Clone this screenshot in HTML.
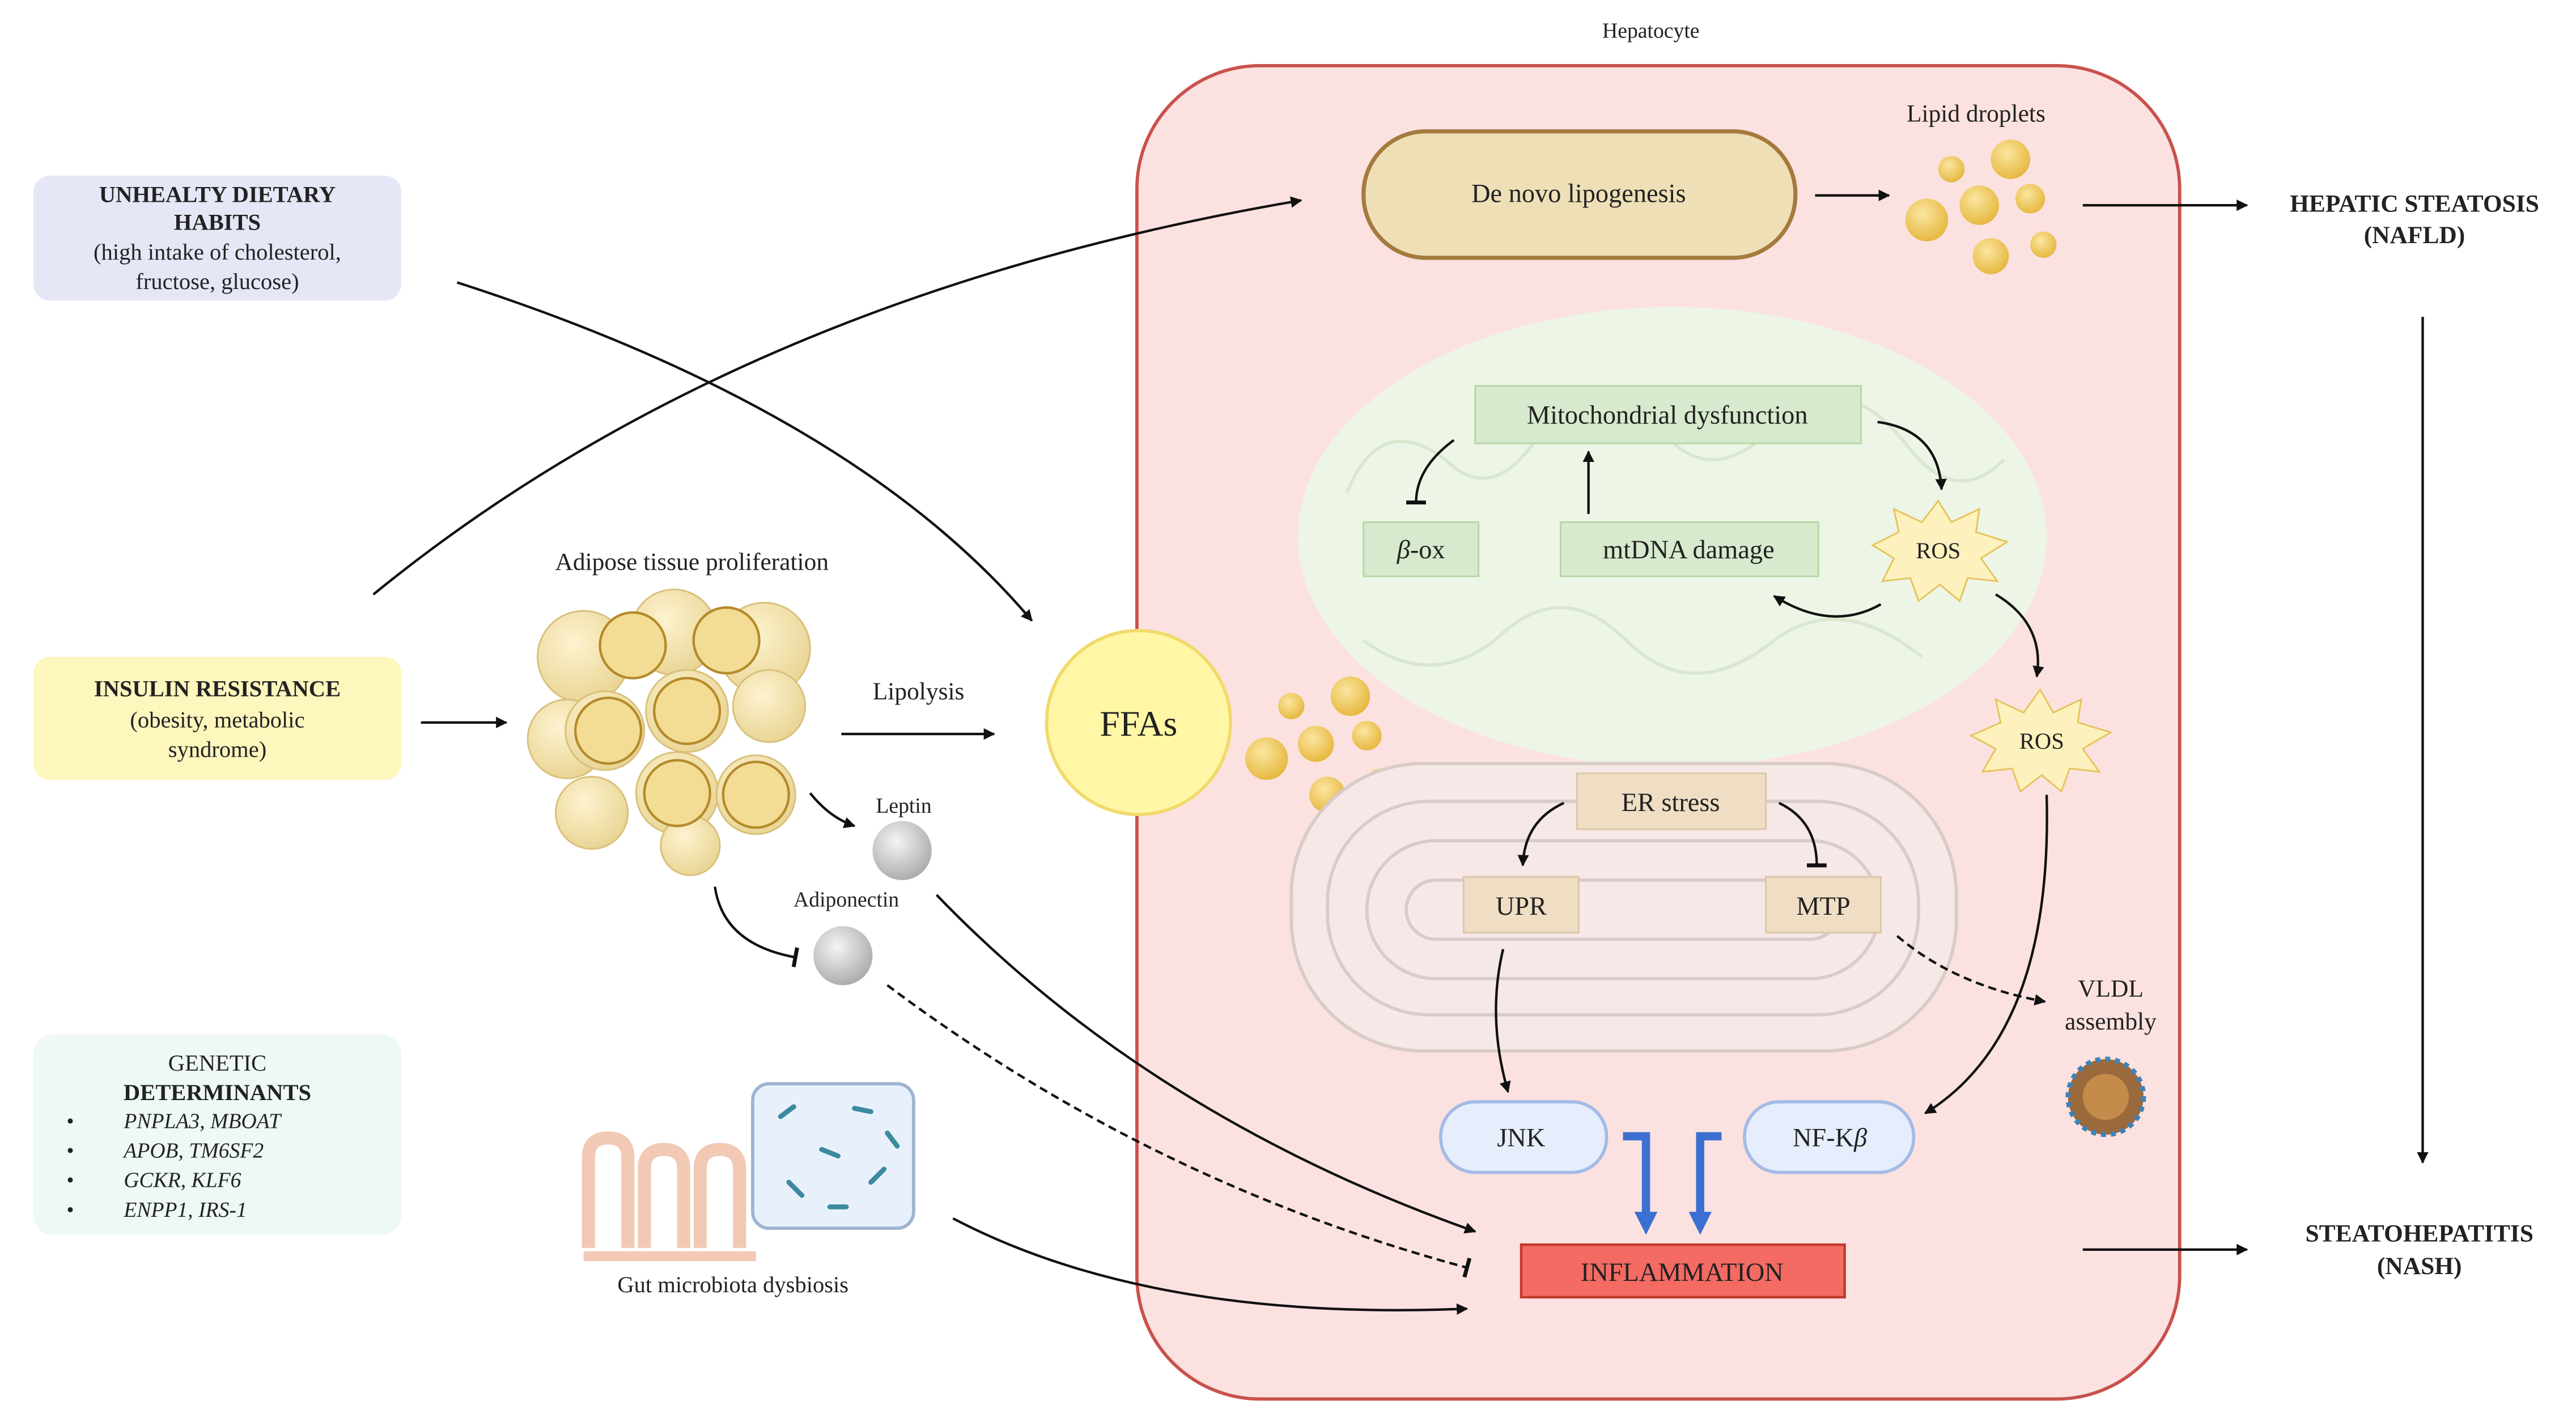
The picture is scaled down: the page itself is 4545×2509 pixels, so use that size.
<!DOCTYPE html>
<html><head><meta charset="utf-8"><style>
html,body{margin:0;padding:0;background:#fff;}
svg{display:block;}
text{font-family:"Liberation Serif",serif;fill:#222;}
</style></head><body>
<svg width="4545" height="2509" viewBox="0 0 1568 866" xmlns="http://www.w3.org/2000/svg">
<defs>
<marker id="a" viewBox="0 0 10 10" refX="9" refY="5" markerWidth="7" markerHeight="7" orient="auto" markerUnits="userSpaceOnUse"><path d="M0,0L10,5L0,10z" fill="#111"/></marker>
<marker id="t" viewBox="0 0 10 10" refX="5" refY="5" markerWidth="12" markerHeight="12" orient="auto" markerUnits="userSpaceOnUse"><path d="M5,0V10" stroke="#111" stroke-width="2"/></marker>
<marker id="b" viewBox="0 0 10 10" refX="5" refY="5" markerWidth="14" markerHeight="14" orient="auto" markerUnits="userSpaceOnUse"><path d="M0,0L10,5L0,10z" fill="#3b6fd1"/></marker>
<radialGradient id="dr" cx="0.4" cy="0.35" r="0.7"><stop offset="0" stop-color="#fbe6a0"/><stop offset="1" stop-color="#e5b53a"/></radialGradient>
<radialGradient id="gr" cx="0.4" cy="0.35" r="0.7"><stop offset="0" stop-color="#f4f4f4"/><stop offset="1" stop-color="#a9a9a9"/></radialGradient>
<radialGradient id="ad" cx="0.4" cy="0.35" r="0.7"><stop offset="0" stop-color="#fdf3d0"/><stop offset="1" stop-color="#e8d391"/></radialGradient>
</defs>

<text x="1005" y="23" font-size="13" text-anchor="middle">Hepatocyte</text>
<rect x="692" y="40" width="635" height="812" rx="75" fill="#fbe2e0" stroke="#c9514c" stroke-width="2"/>

<rect x="830" y="80" width="263" height="77" rx="38" fill="#eedfb6" stroke="#a57a3e" stroke-width="2.5"/>
<text x="961" y="123" font-size="16" text-anchor="middle">De novo lipogenesis</text>
<text x="1203" y="74" font-size="15" text-anchor="middle">Lipid droplets</text>
<g fill="url(#dr)">
<circle cx="1188" cy="103" r="8"/><circle cx="1224" cy="97" r="12"/><circle cx="1173" cy="134" r="13"/><circle cx="1205" cy="125" r="12"/><circle cx="1236" cy="121" r="9"/><circle cx="1212" cy="156" r="11"/><circle cx="1244" cy="149" r="8"/>
</g>
<path d="M1105,119H1150" stroke="#111" stroke-width="1.5" marker-end="url(#a)"/>
<path d="M1268,125H1368" stroke="#111" stroke-width="1.5" marker-end="url(#a)"/>
<text x="1470" y="129" font-size="15" font-weight="bold" text-anchor="middle">HEPATIC STEATOSIS</text>
<text x="1470" y="148" font-size="15" font-weight="bold" text-anchor="middle">(NAFLD)</text>
<path d="M1475,193V708" stroke="#111" stroke-width="1.5" marker-end="url(#a)"/>
<text x="1473" y="756" font-size="15" font-weight="bold" text-anchor="middle">STEATOHEPATITIS</text>
<text x="1473" y="776" font-size="15" font-weight="bold" text-anchor="middle">(NASH)</text>
<path d="M1268,761H1368" stroke="#111" stroke-width="1.5" marker-end="url(#a)"/>

<ellipse cx="1018" cy="327" rx="228" ry="140" fill="#edf5e6"/>
<path d="M820,300 q20,-50 60,-20 q30,30 60,-20 q30,-40 70,0 q30,40 70,0 q40,-40 80,10 q30,40 60,10 M830,390 q40,30 80,0 q40,-40 80,0 q40,40 90,0 q40,-30 90,10" fill="none" stroke="#d9e7d0" stroke-width="2"/>
<rect x="898" y="235" width="235" height="35" fill="#d7eacd" stroke="#b7d6a7"/>
<text x="1015" y="258" font-size="16" text-anchor="middle">Mitochondrial dysfunction</text>
<rect x="830" y="318" width="70" height="33" fill="#d7eacd" stroke="#b7d6a7"/>
<text x="865" y="340" font-size="16" text-anchor="middle"><tspan font-style="italic">β</tspan>-ox</text>
<rect x="950" y="318" width="157" height="33" fill="#d7eacd" stroke="#b7d6a7"/>
<text x="1028" y="340" font-size="16" text-anchor="middle">mtDNA damage</text>
<polygon points="1180,305 1188,318 1205,310 1203,324 1222,330 1206,340 1216,354 1198,352 1193,366 1181,356 1168,366 1163,352 1146,354 1153,340 1140,332 1156,324 1153,310 1170,318" fill="#fdf2bd" stroke="#e6c35c"/>
<text x="1180" y="340" font-size="14" text-anchor="middle">ROS</text>
<polygon points="1242,420 1250,434 1267,426 1265,440 1285,446 1268,456 1278,470 1260,468 1255,482 1243,472 1230,482 1225,468 1207,470 1215,456 1200,448 1218,440 1215,426 1232,434" fill="#fdf2bd" stroke="#e6c35c"/>
<text x="1243" y="456" font-size="14" text-anchor="middle">ROS</text>
<path d="M885,268 Q862,285 862,306" fill="none" stroke="#111" stroke-width="1.5" marker-end="url(#t)"/>
<path d="M967,313V275" stroke="#111" stroke-width="1.5" marker-end="url(#a)"/>
<path d="M1145,368 Q1115,385 1080,363" fill="none" stroke="#111" stroke-width="1.5" marker-end="url(#a)"/>
<path d="M1143,257 Q1180,262 1182,298" fill="none" stroke="#111" stroke-width="1.5" marker-end="url(#a)"/>
<path d="M1215,362 Q1245,380 1240,412" fill="none" stroke="#111" stroke-width="1.5" marker-end="url(#a)"/>

<g fill="url(#dr)">
<circle cx="786" cy="430" r="8"/><circle cx="822" cy="424" r="12"/><circle cx="771" cy="462" r="13"/><circle cx="801" cy="453" r="11"/><circle cx="832" cy="448" r="9"/><circle cx="808" cy="484" r="11"/><circle cx="840" cy="476" r="8"/>
</g>

<!-- ER -->
<g fill="#f5e8e6" stroke="#d8cbc8" stroke-width="2">
<rect x="786" y="465" width="405" height="175" rx="80"/>
<rect x="808" y="488" width="360" height="130" rx="62"/>
<rect x="832" y="512" width="312" height="84" rx="42"/>
<rect x="856" y="536" width="264" height="36" rx="18"/>
</g>
<rect x="960" y="471" width="115" height="34" fill="#f0dec4" stroke="#dcc6a6"/>
<text x="1017" y="494" font-size="16" text-anchor="middle">ER stress</text>
<rect x="891" y="534" width="70" height="34" fill="#f0dec4" stroke="#dcc6a6"/>
<text x="926" y="557" font-size="16" text-anchor="middle">UPR</text>
<rect x="1075" y="534" width="70" height="34" fill="#f0dec4" stroke="#dcc6a6"/>
<text x="1110" y="557" font-size="16" text-anchor="middle">MTP</text>
<path d="M952,489 Q928,500 927,527" fill="none" stroke="#111" stroke-width="1.5" marker-end="url(#a)"/>
<path d="M1083,489 Q1106,500 1106,527" fill="none" stroke="#111" stroke-width="1.5" marker-end="url(#t)"/>
<path d="M915,578 Q905,620 918,665" fill="none" stroke="#111" stroke-width="1.5" marker-end="url(#a)"/>
<path d="M1246,484 Q1250,630 1172,678" fill="none" stroke="#111" stroke-width="1.5" marker-end="url(#a)"/>
<path d="M1155,570 Q1190,600 1245,610" fill="none" stroke="#111" stroke-width="1.5" stroke-dasharray="5,3" marker-end="url(#a)"/>
<text x="1285" y="607" font-size="15" text-anchor="middle">VLDL</text>
<text x="1285" y="627" font-size="15" text-anchor="middle">assembly</text>
<circle cx="1282" cy="668" r="23" fill="#9b6a3c" stroke="#3d82b8" stroke-width="3" stroke-dasharray="3,3"/>
<circle cx="1282" cy="668" r="14" fill="#c58b4a"/>

<rect x="877" y="671" width="101" height="43" rx="21" fill="#e6eefd" stroke="#a5bbe6" stroke-width="2"/>
<text x="926" y="698" font-size="16" text-anchor="middle">JNK</text>
<rect x="1062" y="671" width="103" height="43" rx="21" fill="#e6eefd" stroke="#a5bbe6" stroke-width="2"/>
<text x="1114" y="698" font-size="16" text-anchor="middle">NF-K<tspan font-style="italic">β</tspan></text>
<path d="M988,692 H1002 V745" fill="none" stroke="#3b6fd1" stroke-width="5" marker-end="url(#b)"/>
<path d="M1048,692 H1035 V745" fill="none" stroke="#3b6fd1" stroke-width="5" marker-end="url(#b)"/>
<rect x="926" y="758" width="197" height="32" fill="#f36b63" stroke="#c0392b" stroke-width="1.5"/>
<text x="1024" y="780" font-size="16" text-anchor="middle">INFLAMMATION</text>

<circle cx="693" cy="440" r="56" fill="#fff7a6" stroke="#f1da6a" stroke-width="2"/>
<text x="693" y="448" font-size="22" text-anchor="middle">FFAs</text>

<rect x="20" y="107" width="224" height="76" rx="10" fill="#e5e7f7"/>
<text x="132" y="123" font-size="14" font-weight="bold" text-anchor="middle">UNHEALTY DIETARY</text>
<text x="132" y="140" font-size="14" font-weight="bold" text-anchor="middle">HABITS</text>
<text x="132" y="158" font-size="14" text-anchor="middle">(high intake of cholesterol,</text>
<text x="132" y="176" font-size="14" text-anchor="middle">fructose, glucose)</text>
<rect x="20" y="400" width="224" height="75" rx="10" fill="#fdf6bd"/>
<text x="132" y="424" font-size="14" font-weight="bold" text-anchor="middle">INSULIN RESISTANCE</text>
<text x="132" y="443" font-size="14" text-anchor="middle">(obesity, metabolic</text>
<text x="132" y="461" font-size="14" text-anchor="middle">syndrome)</text>
<rect x="20" y="630" width="224" height="122" rx="12" fill="#eef8f4"/>
<text x="132" y="652" font-size="14" text-anchor="middle">GENETIC</text>
<text x="132" y="670" font-size="14" font-weight="bold" text-anchor="middle">DETERMINANTS</text>
<g font-size="13" font-style="italic">
<text x="40" y="687">•</text><text x="75" y="687">PNPLA3, MBOAT</text>
<text x="40" y="705">•</text><text x="75" y="705">APOB, TM6SF2</text>
<text x="40" y="723">•</text><text x="75" y="723">GCKR, KLF6</text>
<text x="40" y="741">•</text><text x="75" y="741">ENPP1, IRS-1</text>
</g>

<text x="421" y="347" font-size="15" text-anchor="middle">Adipose tissue proliferation</text>
<g fill="url(#ad)" stroke="#d9c07a">
<circle cx="355" cy="400" r="28"/><circle cx="410" cy="385" r="26"/><circle cx="465" cy="395" r="28"/><circle cx="345" cy="450" r="24"/><circle cx="368" cy="445" r="24"/><circle cx="418" cy="433" r="25"/><circle cx="468" cy="430" r="22"/><circle cx="360" cy="495" r="22"/><circle cx="412" cy="483" r="25"/><circle cx="460" cy="484" r="24"/><circle cx="420" cy="515" r="18"/>
</g>
<g fill="#f3dc93" stroke="#b48a2a" stroke-width="1.5"><circle cx="385" cy="393" r="20"/><circle cx="442" cy="390" r="20"/><circle cx="370" cy="445" r="20"/><circle cx="418" cy="433" r="20"/><circle cx="412" cy="483" r="20"/><circle cx="460" cy="484" r="20"/></g>
<path d="M256,440H308" stroke="#111" stroke-width="1.5" marker-end="url(#a)"/>
<text x="559" y="426" font-size="15" text-anchor="middle">Lipolysis</text>
<path d="M512,447H605" stroke="#111" stroke-width="1.5" marker-end="url(#a)"/>
<text x="550" y="495" font-size="13" text-anchor="middle">Leptin</text>
<circle cx="549" cy="518" r="18" fill="url(#gr)"/>
<text x="515" y="552" font-size="13" text-anchor="middle">Adiponectin</text>
<circle cx="513" cy="582" r="18" fill="url(#gr)"/>
<path d="M493,483 Q505,498 520,503" fill="none" stroke="#111" stroke-width="1.5" marker-end="url(#a)"/>
<path d="M435,540 Q440,575 484,583" fill="none" stroke="#111" stroke-width="1.5" marker-end="url(#t)"/>

<path d="M227,362 Q450,180 792,122" fill="none" stroke="#111" stroke-width="1.5" marker-end="url(#a)"/>
<path d="M278,172 Q520,250 628,378" fill="none" stroke="#111" stroke-width="1.5" marker-end="url(#a)"/>
<path d="M570,545 Q700,680 898,750" fill="none" stroke="#111" stroke-width="1.5" marker-end="url(#a)"/>
<path d="M540,600 Q700,720 893,772" fill="none" stroke="#111" stroke-width="1.5" stroke-dasharray="5,3" marker-end="url(#t)"/>
<path d="M580,742 Q700,805 893,797" fill="none" stroke="#111" stroke-width="1.5" marker-end="url(#a)"/>

<path d="M358,760 V705 q0,-12 12,-12 q12,0 12,12 V760 M392,760 V712 q0,-12 12,-12 q12,0 12,12 V760 M426,760 V712 q0,-12 12,-12 q12,0 12,12 V760" fill="none" stroke="#f2c9b4" stroke-width="8"/>
<path d="M355,765H460" stroke="#f2c9b4" stroke-width="6"/>
<rect x="458" y="660" width="98" height="88" rx="10" fill="#e8f1fb" stroke="#9fb4d0" stroke-width="2"/>
<g stroke="#3b8aa0" stroke-width="3" stroke-linecap="round"><path d="M475,680l8,-6M500,700l10,4M520,675l10,2M480,720l8,8M530,720l8,-8M505,735l10,0M540,690l6,8"/></g>
<text x="446" y="787" font-size="14" text-anchor="middle">Gut microbiota dysbiosis</text>
</svg>
</body></html>
